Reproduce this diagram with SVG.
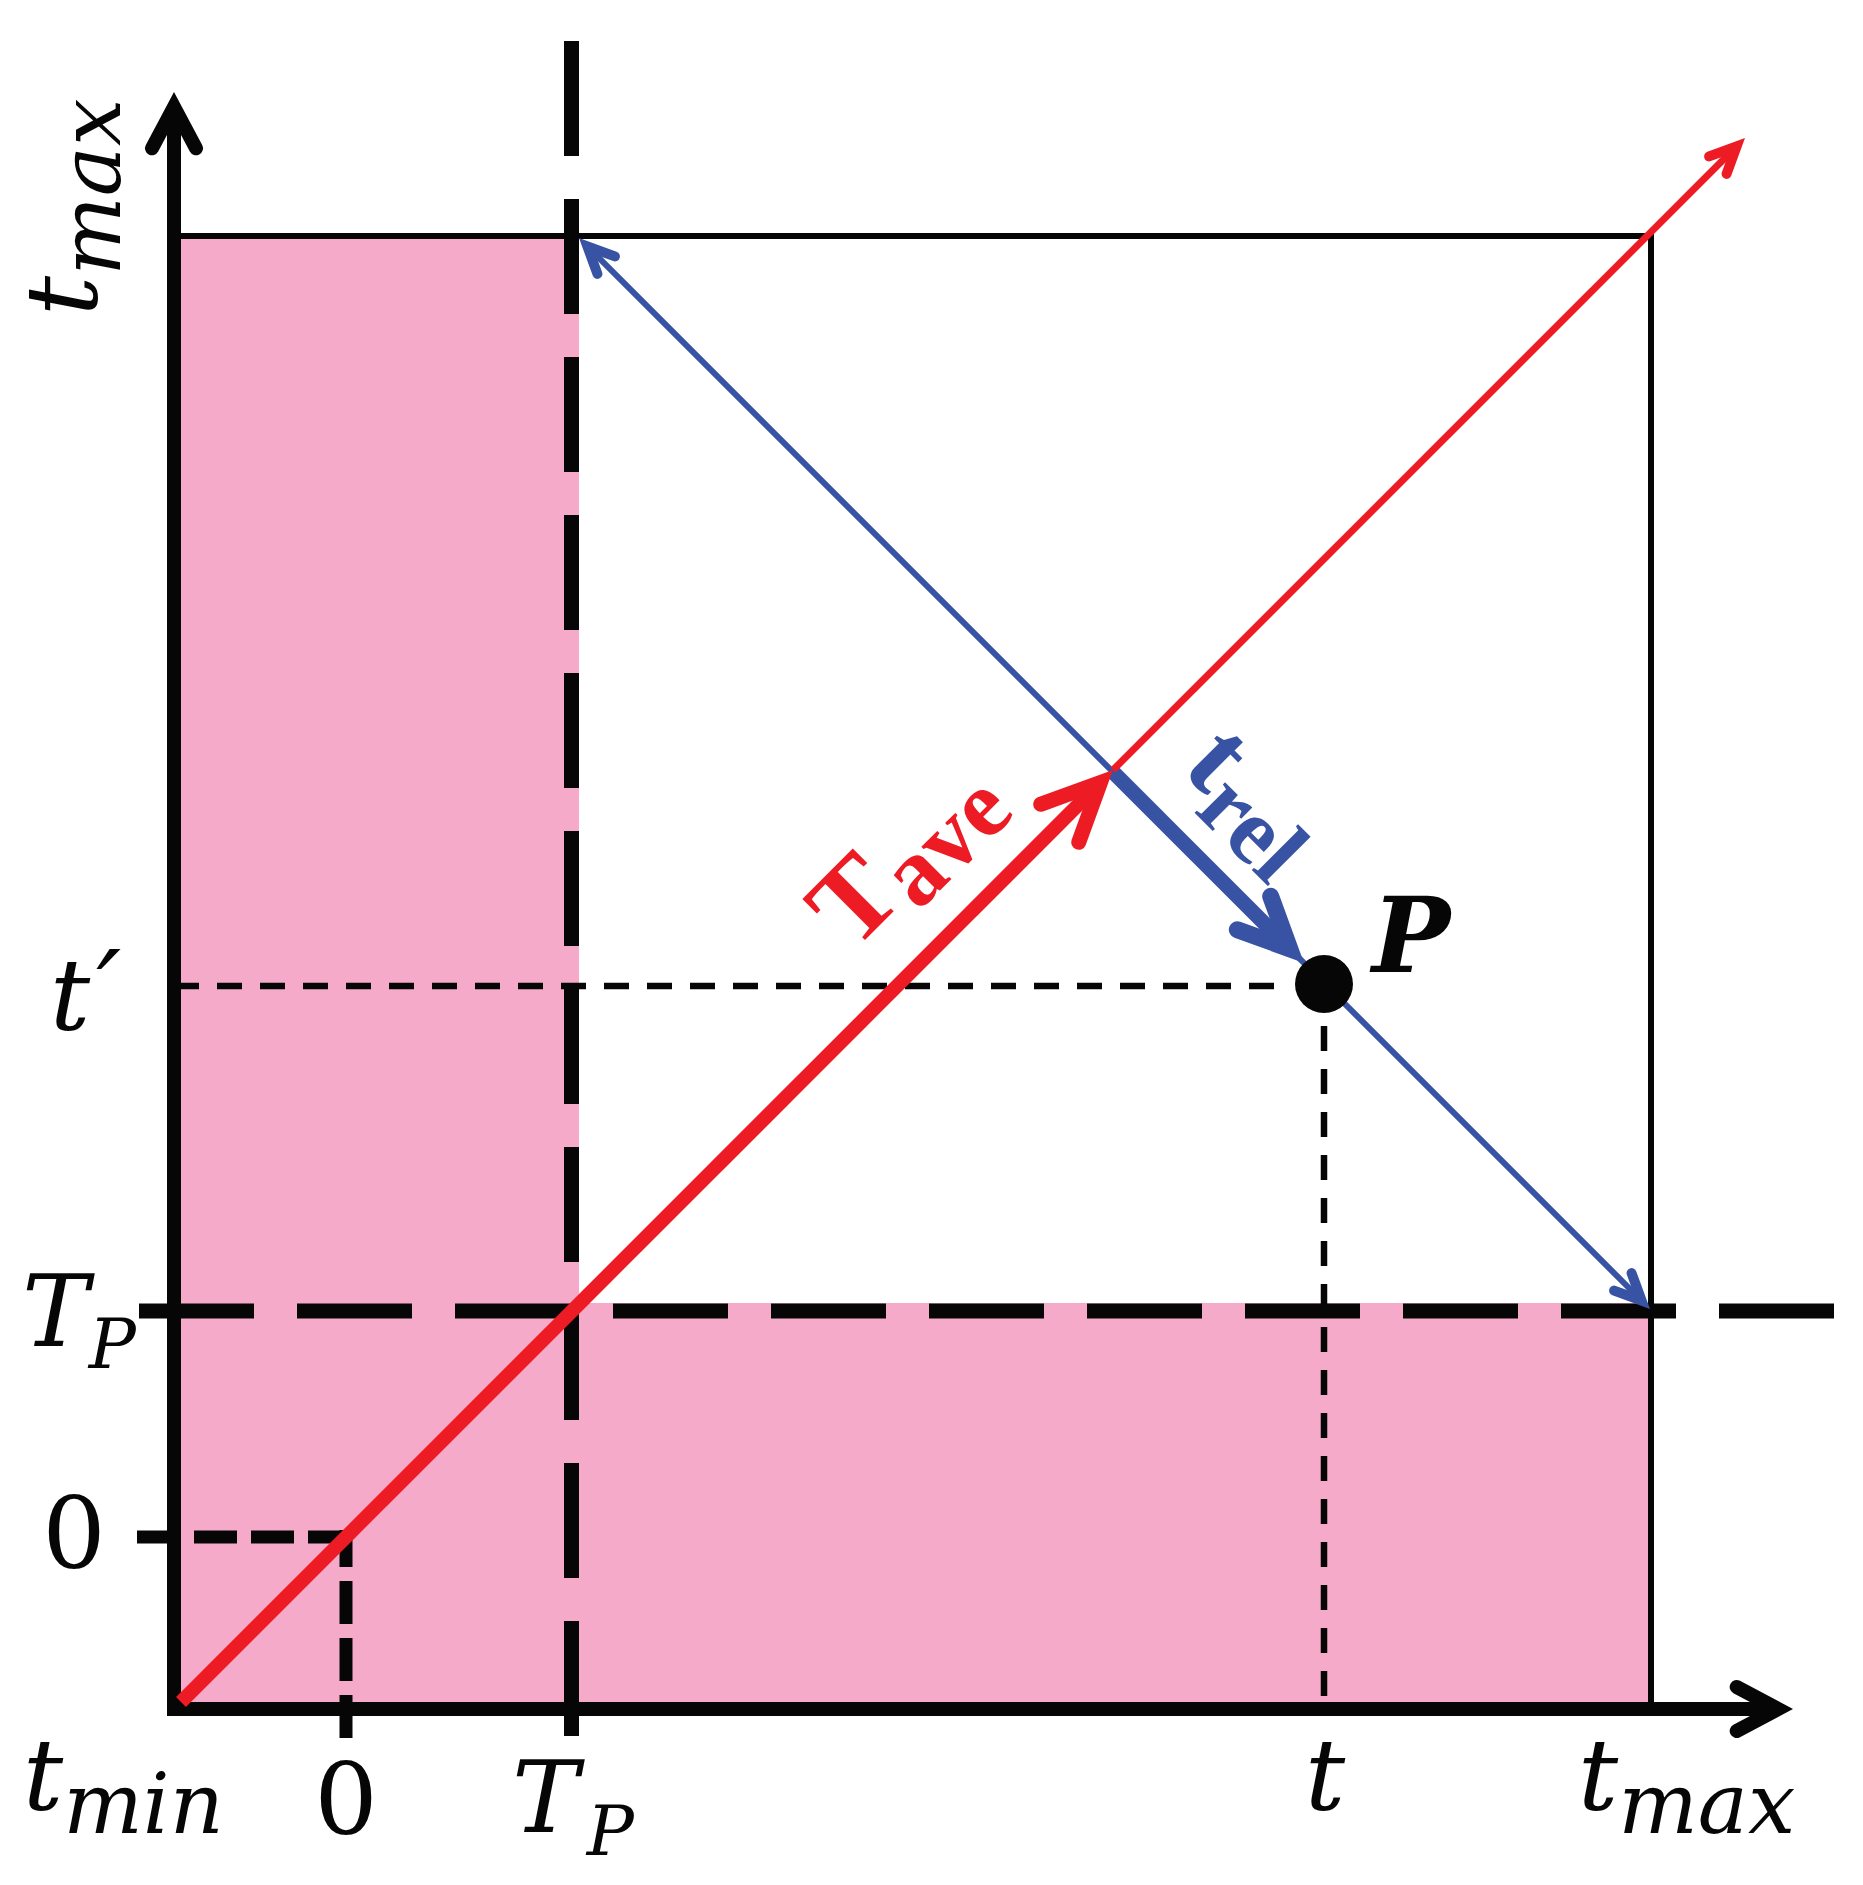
<svg xmlns="http://www.w3.org/2000/svg" xmlns:xlink="http://www.w3.org/1999/xlink" width="1863" height="1885" viewBox="0 0 1863 1885">
<style>
.pink{fill:#f4aac8}
.box{stroke:#060606;stroke-width:6;fill:none}
.axis{stroke:#060606;stroke-width:14;fill:none}
.bigdash{stroke:#060606;stroke-width:15;stroke-dasharray:115 43;fill:none}
.zdash{stroke:#060606;stroke-width:13;stroke-dasharray:43 14;fill:none}
.thin{stroke:#060606;stroke-width:6.5;stroke-dasharray:25 18;fill:none}
.red{stroke:#ed1c24;fill:none}
.blue{stroke:#3953a4;fill:none}
.m{font-family:"DejaVu Serif",serif;font-style:italic;font-size:100px;fill:#060606}
.n{font-family:"DejaVu Serif",serif;font-size:100px;fill:#060606}
.sub{font-size:84px}
.subp{font-size:70px}
.pl{font-family:"DejaVu Serif",serif;font-style:italic;font-weight:bold;font-size:104px;fill:#060606}
.bl{font-family:"Liberation Serif",serif;font-weight:bold}
</style>
<defs>
<path id="hAxis" d="M0,0 L-53,-28.2 A7,7 0 0 0 -59.6,-15.8 L-29.8,0 L-59.6,15.8 A7,7 0 0 0 -53,28.2 Z"/>
<path id="hThick" d="M0,0 L-72.5,-33.8 A7.5,7.5 0 0 0 -78.8,-20.2 L-35.5,0 L-78.8,20.2 A7.5,7.5 0 0 0 -72.5,33.8 Z"/>
<path id="hBlue" d="M0,0 L-67.1,-31.3 A8.5,8.5 0 0 0 -74.3,-15.9 L-40.2,0 L-74.3,15.9 A8.5,8.5 0 0 0 -67.1,31.3 Z"/>
<path id="hThin" d="M0,0 L-36.3,-16.9 A5,5 0 0 0 -40.5,-7.8 L-23.7,0 L-40.5,7.8 A5,5 0 0 0 -36.3,16.9 Z"/>
</defs>

<g id="regions">
<rect class="pink" x="174" y="236" width="405" height="1473"/>
<rect class="pink" x="174" y="1303" width="1477" height="406"/>
</g>

<g id="frame">
<path class="box" d="M174,236 H1651 V1709"/>
</g>

<g id="guides">
<path class="thin" d="M174,986 H1280"/>
<path class="thin" d="M1324,1026 V1702"/>
<path class="zdash" d="M137,1537 H353"/>
<path class="zdash" d="M346,1530 V1738" stroke-dasharray="42 15" stroke-dashoffset="6"/>
<path class="bigdash" d="M571.5,41 V1736"/>
<path class="bigdash" d="M139,1311 H1834"/>
</g>

<g id="axes">
<path class="axis" d="M174,1716 V110"/>
<path class="axis" d="M167,1709 H1775"/>
<use xlink:href="#hAxis" href="#hAxis" fill="#060606" transform="translate(174,92) rotate(-90)"/>
<use xlink:href="#hAxis" href="#hAxis" fill="#060606" transform="translate(1793,1709)"/>
</g>

<g id="connectors">
<line class="blue" x1="589" y1="248" x2="1640" y2="1299" stroke-width="6"/>
<use xlink:href="#hThin" href="#hThin" fill="#3953a4" transform="translate(579,238) rotate(-135)"/>
<use xlink:href="#hThin" href="#hThin" fill="#3953a4" transform="translate(1650,1309) rotate(45)"/>
<line class="blue" x1="1112" y1="771" x2="1288" y2="947" stroke-width="15"/>
<use xlink:href="#hBlue" href="#hBlue" fill="#3953a4" transform="translate(1304,963) rotate(45)"/>
<line class="red" x1="1113" y1="770" x2="1733" y2="150" stroke-width="7"/>
<use xlink:href="#hThin" href="#hThin" fill="#ed1c24" transform="translate(1745,138) rotate(-45)"/>
<line class="red" x1="181" y1="1702" x2="1099" y2="784" stroke-width="14"/>
<use xlink:href="#hThick" href="#hThick" fill="#ed1c24" transform="translate(1113,770) rotate(-45)"/>
</g>

<g id="point-P">
<circle cx="1324" cy="984" r="29" fill="#060606"/>
<text class="pl" x="1372" y="972">P</text>
</g>

<g id="label-Tave">
<text class="bl" fill="#ed1c24" font-size="112" transform="translate(853,952) rotate(-45)">T<tspan font-size="96" dy="18">ave</tspan></text>
</g>
<g id="label-trel">
<text class="bl" fill="#3953a4" font-size="114" transform="translate(1180,770) rotate(45)">t<tspan font-size="94" dy="20">rel</tspan></text>
</g>

<g id="axis-labels">
<text class="m" transform="translate(97,316) rotate(-90)">t<tspan class="sub" dy="23">max</tspan></text>
<text class="m" x="50" y="1030">t<tspan dx="6" font-size="110">′</tspan></text>
<text class="m" x="22" y="1346">T<tspan class="subp" dy="22">P</tspan></text>
<text class="n" x="74" y="1568" text-anchor="middle">0</text>
<text class="m" x="23" y="1810">t<tspan class="sub" dy="23">min</tspan></text>
<text class="n" x="346" y="1834" text-anchor="middle">0</text>
<text class="m" x="512" y="1832">T<tspan class="subp" dx="8" dy="23">P</tspan></text>
<text class="m" x="1325" y="1810" text-anchor="middle">t</text>
<text class="m" x="1578" y="1810">t<tspan class="sub" dy="23">max</tspan></text>
</g>
</svg>
